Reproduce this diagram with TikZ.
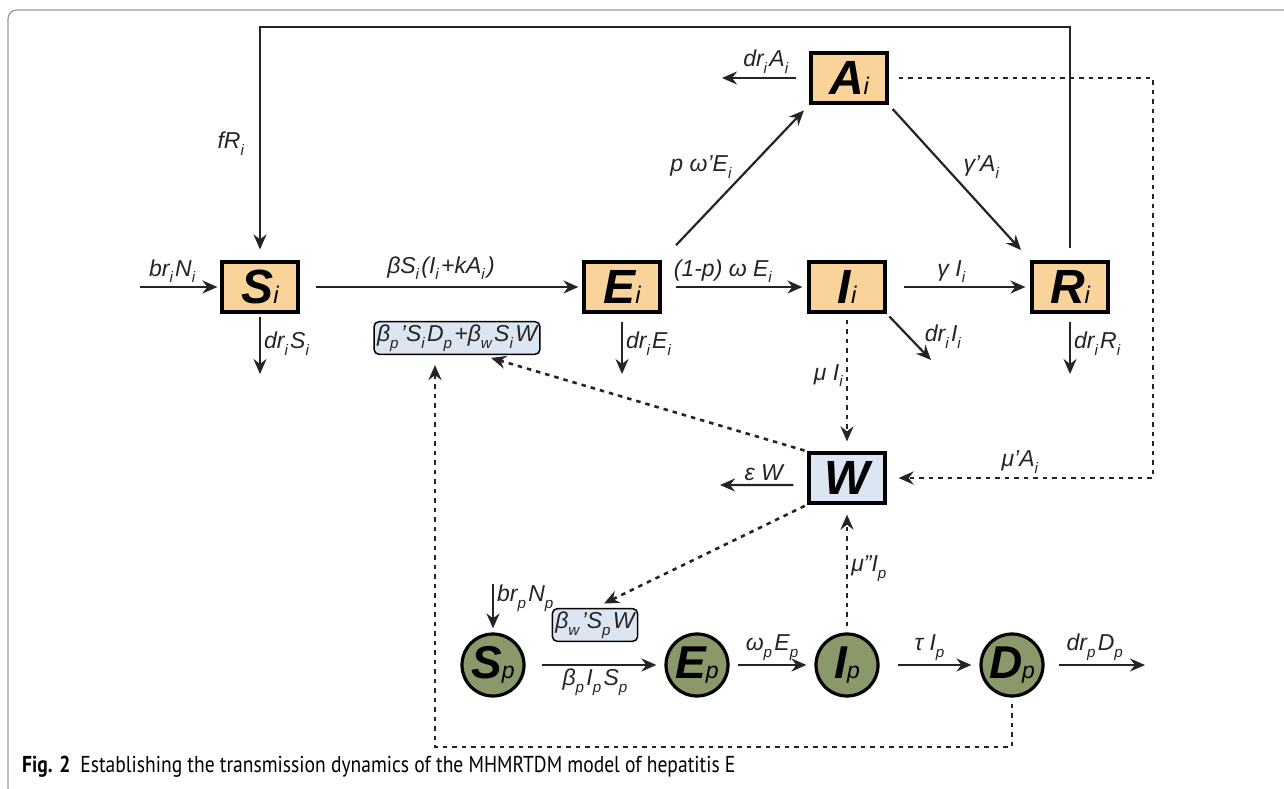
\documentclass[tikz,border=0pt]{standalone}
\usepackage{fontspec}
\setmainfont{Liberation Sans}
\newfontfamily\capfont{PT Sans}[FakeStretch=0.85]
\usepackage{graphicx}
\usepackage{xcolor}
\usetikzlibrary{arrows.meta}
\definecolor{hostfill}{RGB}{250,211,155}
\definecolor{waterfill}{RGB}{220,230,242}
\definecolor{pigfill}{RGB}{138,152,106}
\definecolor{ink}{RGB}{40,35,35}
\newcommand{\flowarrow}{-{Stealth[length=15pt,width=13pt,inset=5pt]}}
\newcommand{\lo}[1]{\raisebox{-0.3em}{\scalebox{0.66}{#1}}\hspace{0.1em}}
\newcommand{\nsub}[1]{\scalebox{0.5}{\mdseries #1}}
\tikzset{
  hostbox/.style={draw=black, line width=3.2pt, fill=hostfill, minimum width=76pt,
    minimum height=50pt, inner sep=0pt, font=\fontsize{48}{48}\selectfont\bfseries\itshape},
  waterbox/.style={hostbox, fill=waterfill},
  pigcirc/.style={circle, draw=black, line width=3.2pt, fill=pigfill, minimum size=62pt,
    inner sep=0pt, font=\fontsize{46}{46}\selectfont\bfseries\itshape},
  lbl/.style={font=\fontsize{23}{26}\selectfont\itshape, text=ink, inner sep=3pt},
  termbox/.style={lbl, draw=black, line width=1.5pt, rounded corners=5pt, fill=waterfill},
  flow/.style={draw=ink, line width=2.2pt},
  dotflow/.style={draw=ink, line width=2.6pt, dash pattern=on 4.5pt off 5pt}
}

\begin{document}
\begin{tikzpicture}[x=1pt,y=-1pt]
\useasboundingbox (0,0) rectangle (1284,789);
\draw[gray!80, line width=1.2pt, rounded corners=9pt] (1300,10) -- (8,10) -- (8,797) -- (1300,797);

% human compartments
\node[hostbox] (Si) at (260,287) {S\nsub{i}};
\node[hostbox] (Ei) at (622,287) {E\nsub{i}};
\node[hostbox] (Ii) at (847,287) {I\nsub{i}};
\node[hostbox] (Ri) at (1070,287) {R\nsub{i}};
\node[hostbox] (Ai) at (849,78) {A\nsub{i}};
\node[waterbox] (W) at (847,478) {W};
\node[termbox] (SiW) at (457,338) {β\lo{p}'S\lo{i}D\lo{p}+β\lo{w}S\lo{i}W};

% pig compartments
\node[pigcirc] (Sp) at (493,665) {S\nsub{p}};
\node[pigcirc] (Ep) at (697,665) {E\nsub{p}};
\node[pigcirc] (Ip) at (847,665) {I\nsub{p}};
\node[pigcirc] (Dp) at (1012,665) {D\nsub{p}};
\node[termbox] (SpW) at (595,625) {β\lo{w}'S\lo{p}W};

\coordinate (inS) at (140,287);
\coordinate (outS) at (260,374);
\coordinate (outE) at (622,374);
\coordinate (outI) at (931,360);
\coordinate (outR) at (1070,374);
\coordinate (outA) at (722,78);
\coordinate (outW) at (720,485);
\coordinate (topL) at (260,27);
\coordinate (aR) at (1153,78);
\coordinate (dB) at (435,747);
\coordinate (inSp) at (493,584);
\coordinate (outD) at (1145,665);

\draw[flow, \flowarrow, shorten >=3pt] (inS) -- node[above, lbl, pos=0.4]{br\lo{i}N\lo{i}} (Si.west);
\draw[flow, \flowarrow, shorten <=12pt, shorten >=11pt] (Ri.north) |- (topL) -- node[left=12pt, lbl, pos=0.5]{fR\lo{i}} (Si.north);
\draw[flow, \flowarrow, shorten <=3pt] (Si.south) -- node[right, lbl]{dr\lo{i}S\lo{i}} (outS);
\draw[flow, \flowarrow, shorten <=16pt, shorten >=4pt] (Si.east) -- node[above=3pt, lbl]{βS\lo{i}(I\lo{i}+kA\lo{i})} (Ei.west);
\draw[flow, \flowarrow, shorten <=21pt, shorten >=8pt] (Ei.north east) -- node[midway, above left, lbl]{p ω'E\lo{i}} (Ai.south west);
\draw[flow, \flowarrow, shorten <=6pt, shorten >=14pt] (Ai.south east) -- node[midway, above right, lbl]{γ'A\lo{i}} (Ri.north west);
\draw[flow, \flowarrow, shorten <=13pt] (Ai.west) -- node[above, lbl]{dr\lo{i}A\lo{i}} (outA);
\draw[flow, \flowarrow, shorten <=14pt, shorten >=5pt] (Ei.east) -- node[above, lbl, pos=0.42]{(1-p) ω E\lo{i}} (Ii.west);
\draw[flow, \flowarrow, shorten <=17pt, shorten >=5pt] (Ii.east) -- node[above, lbl, pos=0.45]{γ I\lo{i}} (Ri.west);
\draw[flow, \flowarrow, shorten <=8pt] (Ei.south) -- node[right, lbl]{dr\lo{i}E\lo{i}} (outE);
\draw[flow, \flowarrow, shorten <=4pt] (Ii.south east) -- node[midway, right=12pt, lbl]{dr\lo{i}I\lo{i}} (outI);
\draw[flow, \flowarrow, shorten <=8pt] (Ri.south) -- node[right, lbl]{dr\lo{i}R\lo{i}} (outR);

% water pathways
\draw[dotflow, \flowarrow, shorten <=6pt, shorten >=10pt] (Ii.south) -- node[left, lbl, pos=0.45]{μ I\lo{i}} (W.north);
\draw[flow, \flowarrow, shorten <=14pt] (W.190) -- node[above, lbl]{ε W} (outW);
\draw[dotflow, \flowarrow, shorten <=10pt, shorten >=12pt] (Ai.east) -- (aR) |- node[pos=0.75, above, lbl]{μ'A\lo{i}} (W.east);
\draw[dotflow, \flowarrow, shorten <=3pt, shorten >=10pt] (W.north west) -- (SiW.-35);
\draw[dotflow, \flowarrow, shorten <=3pt, shorten >=10pt] (W.south west) -- (SpW.north);
\draw[dotflow, \flowarrow, shorten <=6pt, shorten >=10pt] (Ip.north) -- node[right, lbl]{μ''I\lo{p}} (W.south);
\draw[dotflow, \flowarrow, shorten <=6pt, shorten >=10pt] (Dp.south) |- (dB) -- (dB |- SiW.south);

% pig pathways
\draw[flow, \flowarrow, shorten >=4pt] (inSp) -- node[right, lbl, pos=0.3]{br\lo{p}N\lo{p}} (Sp.north);
\draw[flow, \flowarrow, shorten <=16pt, shorten >=8pt] (Sp.east) -- node[below, lbl]{β\lo{p}I\lo{p}S\lo{p}} (Ep.west);
\draw[flow, \flowarrow, shorten <=8pt, shorten >=8pt] (Ep.east) -- node[above, lbl]{ω\lo{p}E\lo{p}} (Ip.west);
\draw[flow, \flowarrow, shorten <=18pt, shorten >=8pt] (Ip.east) -- node[above, lbl]{τ I\lo{p}} (Dp.west);
\draw[flow, \flowarrow, shorten <=14pt] (Dp.east) -- node[above, lbl]{dr\lo{p}D\lo{p}} (outD);

\node[anchor=west, inner sep=0pt] (cap) at (22,767) {\capfont\fontsize{23}{25}\selectfont\textbf{Fig. 2}\hspace{10pt}Establishing the transmission dynamics of the MHMRTDM model of hepatitis E};
\end{tikzpicture}
\end{document}
